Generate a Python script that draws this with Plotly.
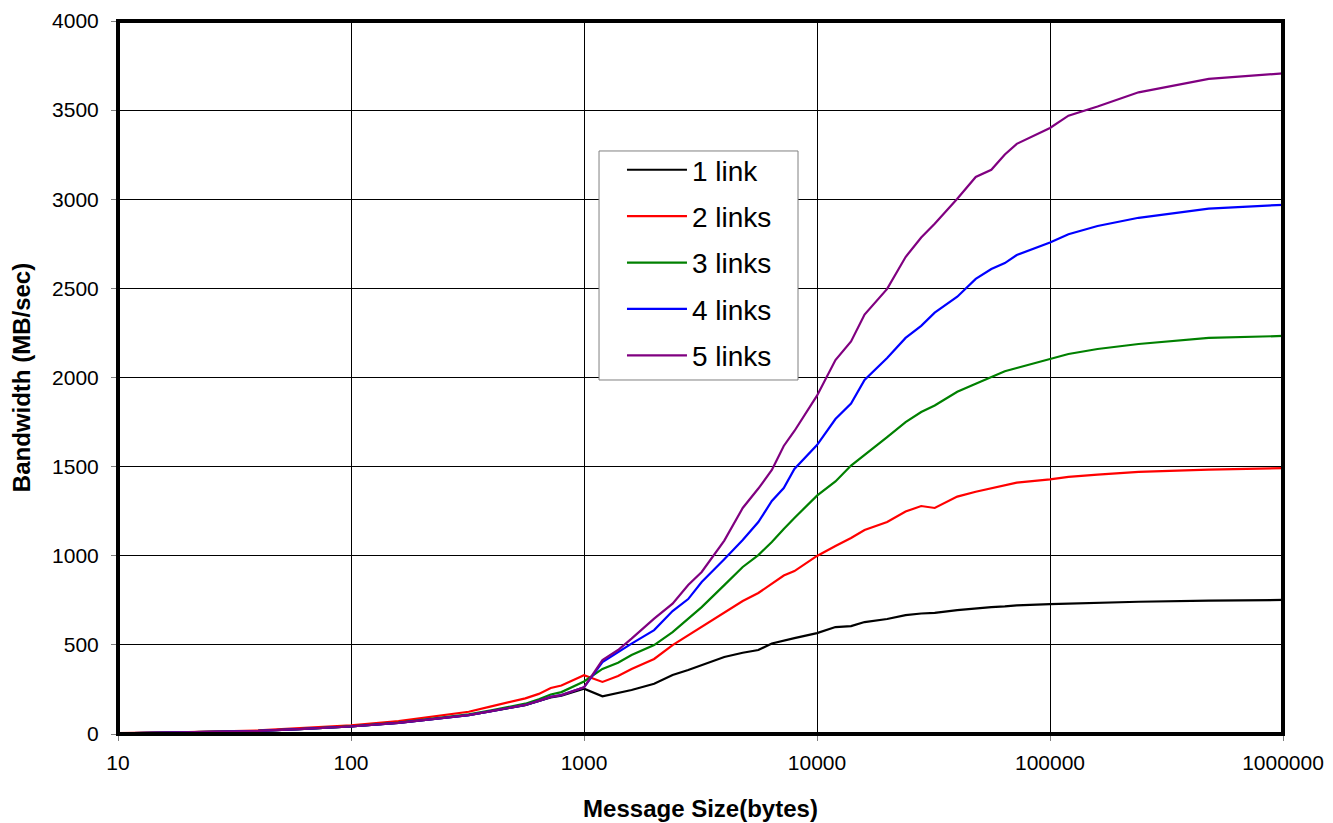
import plotly.graph_objects as go

sizes = [10, 20, 40, 60, 100, 160, 200, 240, 320, 400, 480, 560, 640, 720, 800, 1000,
         1200, 1400, 1600, 2000, 2400, 2800, 3200, 4000, 4800, 5600, 6400, 7200, 8000,
         10000, 12000, 14000, 16000, 20000, 24000, 28000, 32000, 40000, 48000, 56000, 64000, 72000,
         100000, 120000, 160000, 240000, 480000, 1000000]

link1 = [3, 8, 17, 27, 42, 62, 75, 85, 105, 128, 148, 162, 185, 205, 215, 254,
         211, 232, 247, 282, 331, 359, 387, 432, 456, 471, 508, 525, 538,
         566, 600, 605, 628, 645, 667, 676, 680, 695, 706, 712, 716, 722,
         729, 732, 737, 742, 748, 752]
link2 = [5, 10, 20, 32, 48, 72, 88, 105, 125, 155, 180, 200, 225, 258, 272, 330,
         292, 325, 365, 421, 499, 555, 600, 684, 746, 791, 844, 889, 914,
         999, 1055, 1100, 1144, 1189, 1248, 1279, 1268, 1332, 1359, 1377, 1395, 1410,
         1428, 1443, 1455, 1470, 1483, 1492]
link3 = [3, 8, 17, 27, 43, 64, 78, 88, 110, 133, 152, 170, 195, 222, 235, 295,
         365, 400, 443, 499, 572, 647, 712, 835, 937, 1004, 1077, 1150, 1212,
         1337, 1417, 1506, 1565, 1666, 1750, 1806, 1843, 1920, 1965, 2003, 2035, 2053,
         2104, 2132, 2160, 2188, 2222, 2233]
link4 = [3, 8, 17, 27, 42, 62, 76, 86, 106, 128, 148, 163, 186, 208, 218, 262,
         404, 460, 507, 583, 690, 757, 853, 980, 1088, 1189, 1307, 1380, 1487,
         1621, 1767, 1854, 1986, 2109, 2222, 2290, 2364, 2453, 2553, 2609, 2642, 2687,
         2757, 2804, 2850, 2896, 2947, 2969]
link5 = [3, 8, 17, 27, 42, 62, 76, 86, 106, 128, 148, 163, 186, 208, 218, 262,
         415, 471, 535, 647, 731, 836, 909, 1085, 1268, 1377, 1481, 1616, 1700,
         1898, 2098, 2202, 2353, 2497, 2676, 2785, 2863, 3003, 3125, 3165, 3251, 3311,
         3400, 3469, 3520, 3600, 3675, 3706]

series_names = ["1 link", "2 links", "3 links", "4 links", "5 links"]
series_values = [link1, link2, link3, link4, link5]
series_colors = ["#000000", "#ff0000", "#008000", "#0000ff", "#800080"]

x_tickvals = [10, 100, 1000, 10000, 100000, 1000000]
x_ticktext = ["10", "100", "1000", "10000", "100000", "1000000"]
y_tickvals = [0, 500, 1000, 1500, 2000, 2500, 3000, 3500, 4000]

FONT = "Liberation Sans, Arial, sans-serif"

fig = go.Figure()
for i, (name, vals, col) in enumerate(zip(series_names, series_values, series_colors)):
    fig.add_trace(go.Scatter(x=sizes, y=vals, mode="lines", name=name,
                             legendgroup=f"g{i}",
                             line=dict(color=col, width=2.2)))

fig.update_layout(
    width=1333, height=823,
    margin=dict(l=110, r=58, t=13, b=97),
    paper_bgcolor="white", plot_bgcolor="white",
    font=dict(family=FONT, color="black", size=21),
    showlegend=True,
    legend=dict(x=0.4326, y=0.826, xanchor="left", yanchor="top",
                bgcolor="rgba(0,0,0,0)", borderwidth=0,
                font=dict(size=28, family=FONT),
                traceorder="grouped", tracegroupgap=7,
                itemwidth=60),
)
fig.update_xaxes(type="log", range=[1, 6],
                 tickvals=x_tickvals, ticktext=x_ticktext,
                 showgrid=True, gridcolor="black", gridwidth=1,
                 ticks="outside", ticklen=6, tickcolor="#808080",
                 showline=False, zeroline=False, automargin=False,
                 tickfont=dict(size=21), ticklabelstandoff=4,
                 title=dict(text="<b>Message Size(bytes)</b>", font=dict(size=24), standoff=26))
fig.update_yaxes(range=[0, 4000], tickvals=y_tickvals,
                 showgrid=True, gridcolor="black", gridwidth=1,
                 ticks="outside", ticklen=6, tickcolor="#808080",
                 showline=False, zeroline=False, automargin=False,
                 tickfont=dict(size=21), ticklabelstandoff=8,
                 ticklabeloverflow="allow",
                 title=dict(text="<b>Bandwidth (MB/sec)</b>", font=dict(size=24), standoff=16))

# legend frame
fig.add_shape(type="rect", xref="paper", yref="paper", x0=0.4129, x1=0.5837, y0=0.4965, y1=0.8177,
              line=dict(color="#808080", width=1), fillcolor="white", layer="above")
# plot frame
fig.add_shape(type="rect", xref="paper", yref="paper", x0=0, x1=1, y0=0, y1=1,
              line=dict(color="black", width=4), layer="above")

fig.write_html("out.html")
